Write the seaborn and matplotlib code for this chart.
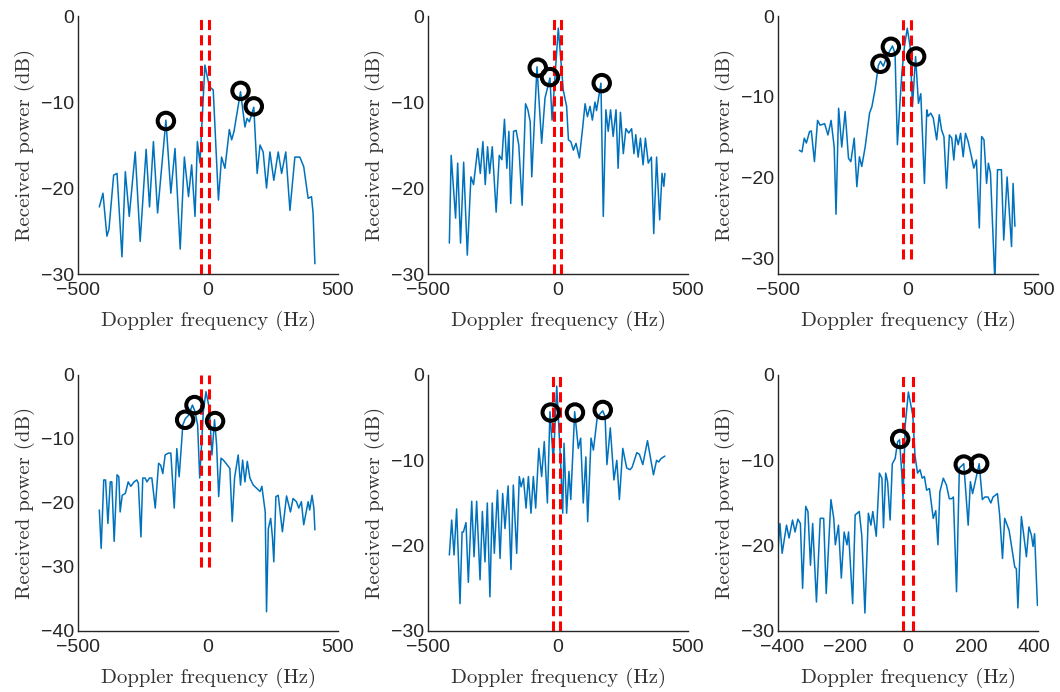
import numpy as np
import pandas as pd
import seaborn as sns
import matplotlib.pyplot as plt

# spectra (Hz, dB), peaks = circled targets, band = red dashed lines
hz_1 = [-418, -404, -389, -381, -363, -350, -331, -318, -303, -280, -261, -238, -225, -210, -194,
        -162, -143, -127, -107, -91, -75, -63, -50, -41, -31, -12, 5, 20, 40, 52, 65, 82, 91, 100,
        125, 142, 150, 159, 176, 189, 200, 212, 225, 238, 253, 270, 283, 299, 315, 334, 353, 368,
        385, 398, 404, 411]
db_1 = [-22.2, -20.6, -25.6, -24.8, -18.5, -18.3, -28.0, -18.1, -23.3, -15.8, -26.2, -15.5, -22.2,
        -14.6, -22.9, -12.1, -20.6, -15.4, -27.1, -16.4, -21.0, -17.3, -23.3, -14.6, -17.1, -5.7,
        -8.2, -8.6, -21.4, -16.4, -17.7, -13.2, -14.4, -13.4, -8.8, -12.9, -11.9, -12.3, -10.6,
        -18.3, -15.0, -15.8, -20.0, -15.8, -19.1, -15.8, -18.3, -15.8, -22.6, -16.4, -16.4, -17.5,
        -21.2, -21.0, -22.9, -28.8]
peak_hz_1 = [-162, 125, 176]
peak_db_1 = [-12.2, -8.7, -10.5]
band_1 = [-27, 4]

hz_2 = [-418, -411, -394, -386, -375, -363, -349, -335, -325, -309, -299, -289, -280, -271, -263,
        -253, -238, -226, -216, -206, -197, -189, -182, -171, -161, -151, -138, -125, -116, -107,
        -101, -81, -63, -50, -31, -23, 1, 20, 33, 40, 49, 59, 69, 82, 95, 104, 113, 123, 132, 142,
        148, 165, 174, 184, 193, 202, 212, 223, 231, 240, 251, 261, 272, 283, 292, 299, 308, 317,
        327, 336, 347, 359, 368, 379, 391, 400, 407, 411]
db_2 = [-26.4, -16.2, -23.5, -17.1, -26.4, -17.0, -27.8, -18.7, -19.6, -15.4, -18.3, -14.6, -19.6,
        -15.2, -18.3, -15.2, -22.8, -16.2, -16.7, -12.0, -17.7, -13.4, -21.8, -13.4, -13.3, -15.0,
        -22.0, -10.2, -10.9, -12.3, -18.7, -5.9, -14.8, -9.5, -7.2, -12.1, -1.4, -8.6, -10.5, -14.4,
        -14.6, -15.6, -14.8, -16.5, -12.9, -10.2, -11.7, -10.5, -12.1, -10.0, -11.0, -7.8, -23.3,
        -10.9, -13.4, -10.9, -14.0, -10.9, -17.7, -11.2, -16.0, -13.1, -13.6, -13.1, -16.0, -13.8,
        -16.4, -14.2, -17.3, -14.2, -17.1, -16.4, -25.3, -16.4, -23.7, -18.3, -19.8, -18.3]
peak_hz_2 = [-78, -31, 168]
peak_db_2 = [-6.0, -7.1, -7.8]
band_2 = [-17, 12]

hz_3 = [-418, -408, -399, -391, -379, -372, -360, -348, -338, -321, -308, -296, -284, -277, -267,
        -255, -242, -229, -220, -207, -197, -187, -178, -165, -148, -139, -127, -114, -106, -95,
        -82, -60, -50, -41, -24, -14, -3, 8, 17, 29, 40, 49, 63, 72, 77, 87, 97, 110, 120, 129,
        138, 148, 159, 168, 176, 184, 193, 202, 212, 221, 231, 244, 253, 263, 274, 283, 292, 302,
        309, 317, 334, 344, 359, 368, 381, 398, 404, 411]
db_3 = [-16.6, -16.8, -15.1, -15.7, -14.3, -14.2, -18.0, -12.9, -13.5, -13.3, -14.7, -12.9, -16.2,
        -24.5, -11.4, -16.2, -11.8, -17.6, -18.0, -15.1, -21.1, -17.4, -18.6, -16.2, -12.0, -11.2,
        -9.1, -6.1, -5.6, -6.2, -5.0, -3.7, -4.6, -15.9, -7.1, -3.8, -1.5, -3.8, -11.2, -5.0, -10.8,
        -9.6, -20.7, -11.6, -12.4, -12.0, -12.6, -15.3, -12.2, -14.1, -14.9, -21.3, -14.7, -15.1,
        -17.8, -14.7, -15.9, -14.5, -17.4, -14.5, -15.5, -17.4, -18.8, -17.8, -26.2, -14.9, -15.3,
        -20.7, -18.2, -19.4, -33.0, -19.0, -19.0, -27.7, -19.9, -28.5, -20.7, -26.0]
peak_hz_3 = [-106, -66, 31]
peak_db_3 = [-5.9, -3.8, -5.0]
band_3 = [-20, 10]

hz_4 = [-418, -411, -401, -394, -385, -376, -370, -361, -350, -343, -338, -330, -318, -307, -297,
        -284, -274, -268, -258, -251, -242, -235, -225, -216, -203, -190, -182, -174, -165, -152,
        -143, -130, -120, -111, -105, -97, -87, -75, -60, -50, -40, -32, -18, -8, 5, 15, 25, 33, 41,
        50, 59, 69, 84, 93, 102, 116, 125, 133, 142, 151, 161, 174, 187, 200, 207, 220, 225, 232,
        241, 248, 253, 261, 270, 286, 302, 317, 327, 340, 349, 359, 368, 385, 391, 400, 407, 411]
db_4 = [-21.1, -27.1, -16.4, -16.4, -23.2, -16.7, -16.7, -26.0, -15.6, -15.9, -21.4, -18.8, -18.5,
        -16.7, -17.4, -16.7, -16.4, -16.9, -25.3, -16.1, -16.1, -16.7, -16.1, -16.1, -20.8, -13.8,
        -14.1, -15.4, -12.5, -12.2, -12.2, -20.8, -11.5, -15.9, -12.5, -7.8, -6.8, -6.3, -4.7, -5.7,
        -7.8, -16.1, -5.7, -2.6, -5.2, -12.5, -7.0, -10.9, -19.0, -13.0, -13.3, -13.8, -14.6, -22.9,
        -16.1, -12.5, -17.2, -13.3, -16.7, -13.5, -16.1, -17.2, -17.7, -18.2, -17.4, -21.4, -37.0,
        -24.0, -22.4, -25.5, -29.2, -19.0, -18.8, -24.5, -18.9, -21.4, -19.3, -19.8, -20.8, -19.8,
        -23.4, -19.8, -21.1, -18.8, -20.8, -24.2]
peak_hz_4 = [-88, -52, 27]
peak_db_4 = [-7.0, -4.7, -7.2]
band_4 = [-27, 4]

hz_5 = [-418, -409, -400, -390, -377, -369, -364, -354, -345, -332, -323, -313, -300, -291, -281,
        -272, -262, -253, -245, -233, -223, -213, -204, -192, -181, -172, -159, -149, -142, -133,
        -123, -114, -104, -95, -86, -74, -63, -53, -41, -31, -18, -5, 10, 18, 23, 33, 42, 49, 64,
        78, 87, 97, 107, 114, 127, 136, 151, 172, 181, 188, 201, 215, 226, 236, 249, 264, 277,
        285, 303, 313, 326, 344, 367, 379, 387, 396, 411]
db_5 = [-21.1, -17.0, -21.1, -15.7, -26.8, -18.4, -18.4, -17.3, -24.3, -14.8, -21.3, -14.8, -24.0,
        -16.0, -21.9, -15.0, -26.0, -15.0, -20.9, -13.5, -21.5, -13.9, -18.0, -13.0, -22.8, -12.9,
        -20.9, -11.9, -13.1, -12.1, -15.6, -11.9, -16.2, -11.9, -15.6, -8.6, -11.9, -7.8, -15.0,
        -4.3, -10.2, -1.3, -10.3, -16.2, -8.0, -16.2, -11.3, -14.6, -4.3, -8.6, -7.4, -15.0, -9.6,
        -17.2, -7.4, -8.8, -4.9, -4.2, -4.9, -10.5, -6.2, -12.3, -10.0, -14.6, -8.6, -10.9, -11.1,
        -10.8, -9.1, -9.3, -10.5, -7.7, -11.7, -10.0, -10.2, -9.8, -9.5]
peak_hz_5 = [-28, 65, 172]
peak_db_5 = [-4.4, -4.4, -4.1]
band_5 = [-20, 8]

hz_6 = [-413, -407, -400, -386, -378, -367, -359, -350, -342, -335, -325, -318, -310, -303, -291,
        -279, -268, -260, -245, -236, -231, -221, -212, -203, -194, -189, -176, -168, -155, -147,
        -137, -126, -118, -112, -101, -91, -83, -78, -71, -65, -57, -50, -41, -33, -27, -20, -16,
        -9, 1, 15, 22, 30, 38, 45, 52, 59, 68, 80, 88, 95, 101, 112, 122, 131, 138, 144, 154, 163,
        177, 191, 198, 205, 226, 236, 244, 254, 263, 270, 284, 291, 300, 307, 321, 339, 344, 349,
        360, 367, 376, 384, 392, 397, 402, 411]
db_6 = [-20.5, -17.4, -20.9, -17.6, -19.1, -17.0, -18.4, -16.9, -17.4, -25.0, -15.4, -16.0, -22.3,
        -17.4, -26.6, -16.8, -16.8, -25.6, -14.6, -16.8, -19.9, -17.6, -23.8, -18.4, -19.9, -18.4,
        -26.8, -16.4, -16.0, -18.8, -27.9, -16.2, -17.6, -16.0, -18.9, -11.5, -12.1, -17.9, -11.5,
        -12.5, -17.0, -10.4, -9.8, -7.8, -7.6, -11.5, -14.5, -5.9, -2.0, -4.7, -9.4, -11.5, -11.1,
        -12.1, -11.9, -13.5, -13.3, -16.8, -15.9, -19.9, -13.7, -12.1, -12.9, -14.5, -14.5, -14.3,
        -25.4, -10.9, -10.4, -17.6, -12.5, -13.9, -10.4, -14.6, -14.3, -14.3, -15.0, -14.3, -13.9,
        -16.4, -21.5, -16.8, -18.2, -22.5, -22.7, -27.3, -16.6, -18.6, -21.3, -17.8, -18.8, -20.1,
        -18.6, -27.0]
peak_hz_6 = [-25, 177, 226]
peak_db_6 = [-7.5, -10.5, -10.4]
band_6 = [-16, 15]

band_db = [-30, 0]

sns.set_theme(style="white")
plt.rcParams['font.family'] = ['Liberation Sans', 'DejaVu Sans']
plt.rcParams['axes.unicode_minus'] = True

grey = '#262626'
fig = plt.figure(figsize=(10.6, 6.92), dpi=100)

lefts = [0.0736, 0.4038, 0.7340]
bottoms = [0.6040, 0.0882]
heights = [0.3728, 0.3699]

panels = [
    (hz_1, db_1, peak_hz_1, peak_db_1, band_1, (-500, 500), (-30, 0), [-500, 0, 500], [-30, -20, -10, 0]),
    (hz_2, db_2, peak_hz_2, peak_db_2, band_2, (-500, 500), (-30, 0), [-500, 0, 500], [-30, -20, -10, 0]),
    (hz_3, db_3, peak_hz_3, peak_db_3, band_3, (-500, 500), (-31.9, 0), [-500, 0, 500], [-30, -20, -10, 0]),
    (hz_4, db_4, peak_hz_4, peak_db_4, band_4, (-500, 500), (-40, 0), [-500, 0, 500], [-40, -30, -20, -10, 0]),
    (hz_5, db_5, peak_hz_5, peak_db_5, band_5, (-500, 500), (-30, 0), [-500, 0, 500], [-30, -20, -10, 0]),
    (hz_6, db_6, peak_hz_6, peak_db_6, band_6, (-413, 413), (-30, 0), [-400, -200, 0, 200, 400], [-30, -20, -10, 0]),
]

for i, (hz, db, phz, pdb, band, xl, yl, xt, yt) in enumerate(panels):
    row, col = divmod(i, 3)
    ax = fig.add_axes([lefts[col], bottoms[row], 0.2453, heights[row]])
    sns.lineplot(x=hz, y=db, ax=ax, color='#0072BD', linewidth=1.1, zorder=2)
    for f in band:
        ax.plot([f, f], band_db, color='#FF0000', lw=2.2, ls=(0, (3.3, 1.7)), zorder=3)
    sns.scatterplot(x=phz, y=pdb, ax=ax, color='black', facecolor='none', edgecolor='black',
                    s=140, linewidth=2.9, zorder=4)
    ax.set_xlim(xl)
    ax.set_ylim(yl)
    ax.set_xticks(xt)
    ax.set_yticks(yt)
    for s in ['top', 'right']:
        ax.spines[s].set_visible(False)
    for s in ['left', 'bottom']:
        ax.spines[s].set_color(grey)
        ax.spines[s].set_linewidth(1.0)
    ax.tick_params(direction='in', length=3, width=0.8, colors=grey, labelsize=14, pad=3)
    ax.tick_params(axis='x', pad=6)
    ax.set_xlabel('Doppler frequency (Hz)', fontfamily='cmr10', fontsize=15, color='#333333', labelpad=8)
    ax.set_ylabel('Received power (dB)', fontfamily='cmr10', fontsize=15, color='#333333', labelpad=4)

fig.savefig('out.png', dpi=100)
